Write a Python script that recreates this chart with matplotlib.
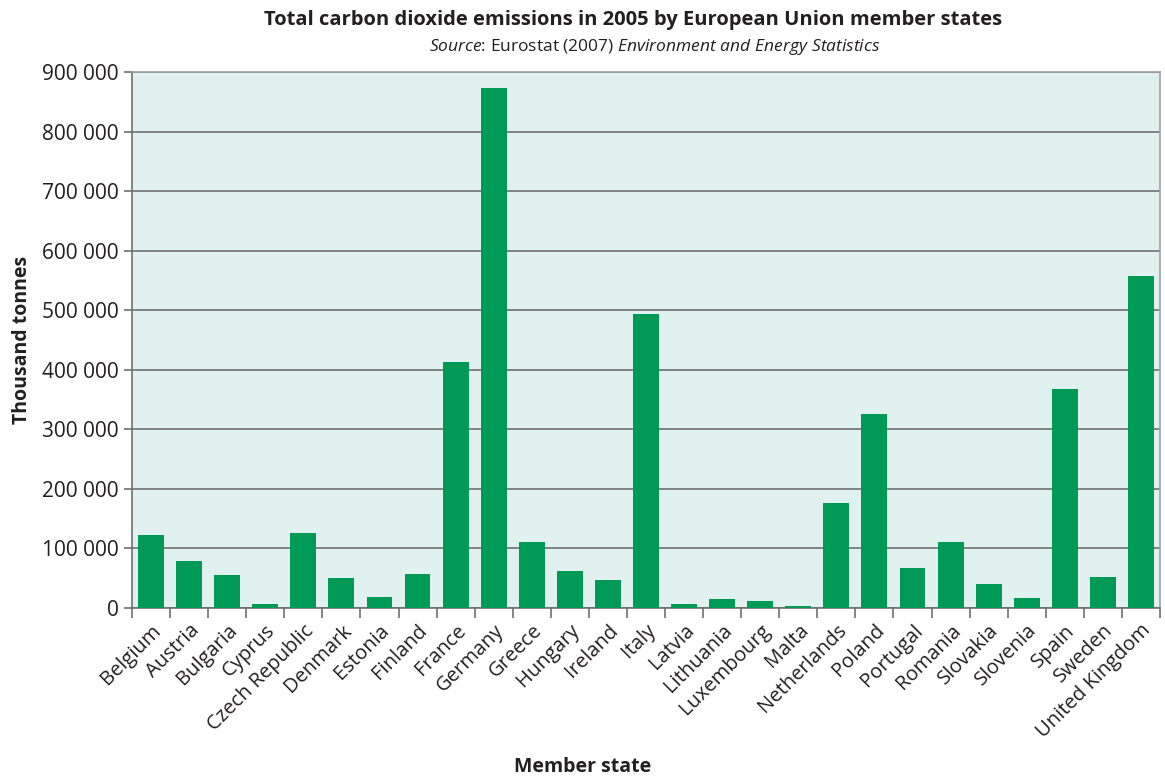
import matplotlib.pyplot as plt
from matplotlib.ticker import FuncFormatter, FixedLocator

plt.rcParams['font.family'] = ['Open Sans', 'DejaVu Sans']
plt.rcParams['mathtext.fontset'] = 'custom'
plt.rcParams['mathtext.rm'] = 'Open Sans'
plt.rcParams['mathtext.it'] = 'Open Sans:italic'

# Data (thousand tonnes CO2, 2005)
states = ['Belgium', 'Austria', 'Bulgaria', 'Cyprus', 'Czech Republic', 'Denmark',
          'Estonia', 'Finland', 'France', 'Germany', 'Greece', 'Hungary', 'Ireland',
          'Italy', 'Latvia', 'Lithuania', 'Luxembourg', 'Malta', 'Netherlands',
          'Poland', 'Portugal', 'Romania', 'Slovakia', 'Slovenia', 'Spain',
          'Sweden', 'United Kingdom']
emissions = [122600, 79000, 55500, 7200, 126000, 50500, 18500, 57000, 413000,
             873000, 111000, 62000, 47000, 493500, 7000, 15000, 12000, 3000,
             176500, 325500, 67000, 111000, 40000, 17000, 367500, 52500, 557500]

bar_color = '#009a57'
bg_color = '#e1f1f0'
grid_color = '#707070'
text_color = '#231f20'

fig = plt.figure(figsize=(11.65, 7.77), dpi=100)
ax = fig.add_axes([0.1133, 0.2175, 0.8824, 0.6898])
ax.set_facecolor(bg_color)

x = range(len(states))
ax.bar(x, emissions, width=0.68, color=bar_color, zorder=3)

ax.set_xlim(-0.5, len(states) - 0.5)
ax.set_ylim(0, 900000)
ax.set_yticks(range(0, 900001, 100000))
ax.yaxis.set_major_formatter(FuncFormatter(lambda v, p: '{:,}'.format(int(v)).replace(',', ' ')))
ax.grid(axis='y', color=grid_color, linewidth=1.2, zorder=1)

# category labels at bar centres, tick marks at the boundaries
ax.set_xticks(list(x))
ax.set_xticklabels(states, rotation=45, ha='right', rotation_mode='anchor', fontsize=14.5, color=text_color)
ax.tick_params(axis='x', length=0, pad=9)
ax.xaxis.set_minor_locator(FixedLocator([i - 0.5 for i in range(len(states) + 1)]))
ax.tick_params(axis='x', which='minor', length=7, width=1.2, color=grid_color)
ax.tick_params(axis='y', length=6, width=1.2, color=grid_color, labelsize=15, labelcolor=text_color)

for side in ['left', 'bottom', 'top', 'right']:
    ax.spines[side].set_color(grid_color)
    ax.spines[side].set_linewidth(1.2)
ax.spines['top'].set_color('#a0a0a0')
ax.spines['right'].set_color('#a0a0a0')

ax.set_ylabel('Thousand tonnes', fontsize=14, fontweight='bold', color=text_color, labelpad=7)

fig.text(0.5004, 0.0129, 'Member state', ha='center', va='center',
         fontsize=14, fontweight='bold', color=text_color)
fig.text(0.5436, 0.974, 'Total carbon dioxide emissions in 2005 by European Union member states',
         ha='center', va='center', fontsize=14.5, fontweight='bold', color=text_color)
fig.text(0.562, 0.9395, r'$\it{Source}$: Eurostat (2007) $\it{Environment\ and\ Energy\ Statistics}$',
         ha='center', va='center', fontsize=12.5, color=text_color)

plt.savefig('out.png', dpi=100)
